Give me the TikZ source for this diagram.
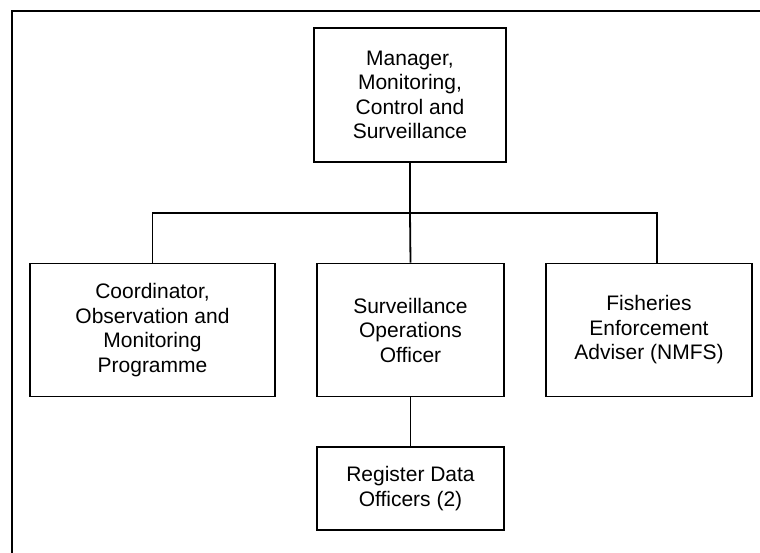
\documentclass[tikz,border=0pt]{standalone}
\usepackage{fontspec}
\setmainfont{Liberation Sans}
\usetikzlibrary{positioning}

\tikzset{
  post/.style={draw, line width=1.8pt, align=center, inner sep=2pt,
    font=\fontsize{21}{24.5}\selectfont},
  link/.style={line width=1.8pt}
}

\begin{document}
\begin{tikzpicture}[x=1pt, y=-1pt]
\useasboundingbox (0,0) rectangle (760,553);
% frame
\draw[line width=2.2pt] (12,553) -- (12,11) -- (760,11);
% boxes
\node[post, minimum width=192pt, minimum height=134pt] (mgr) at (410,95)
  {Manager,\\Monitoring,\\Control and\\Surveillance};
\node[post, minimum width=245pt, minimum height=133pt] (coord) at (152.5,330)
  {Coordinator,\\Observation and\\Monitoring\\Programme};
\node[post, minimum width=187pt, minimum height=133pt] (ops) at (410.5,330)
  {Surveillance\\Operations\\Officer};
\node[post, minimum width=206pt, minimum height=133pt] (fea) at (649,330)
  {Fisheries\\Enforcement\\Adviser (NMFS)};
\node[post, minimum width=187pt, minimum height=83pt] (reg) at (410.5,488.5)
  {Register Data\\Officers (2)};
% connectors
\coordinate (bar) at (410,213);
\draw[link] (mgr.south) -- (bar);
\draw[link] (coord.north) |- (bar) -| ([xshift=8pt]fea.north);
\draw[link] (bar) -- (ops.north);
\draw[link] (ops.south) -- (reg.north);
\end{tikzpicture}
\end{document}
